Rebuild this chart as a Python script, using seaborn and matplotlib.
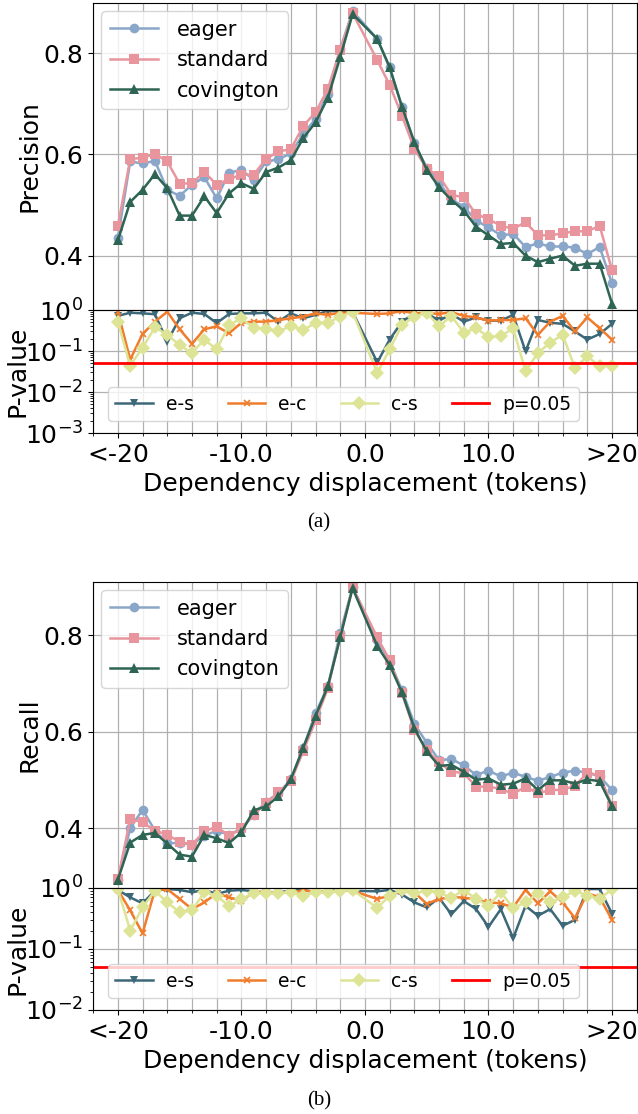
import numpy as np
import pandas as pd
import matplotlib
matplotlib.use("Agg")
import matplotlib.pyplot as plt
import matplotlib.ticker as mticker
import seaborn as sns

# displacement -20..-1, 1..20 (no 0)
DISP = list(range(-20, 0)) + list(range(1, 21))
XTICKS = [-20, -10, 0, 10, 20]
XTICKLABELS = ["<-20", "-10.0", "0.0", "10.0", ">20"]

# panel (a) precision
prec_eager = [0.435, 0.586, 0.582, 0.587, 0.530, 0.518, 0.540, 0.555, 0.513, 0.564,
              0.569, 0.550, 0.586, 0.590, 0.602, 0.640, 0.670, 0.720, 0.808, 0.883,
              0.828, 0.772, 0.694, 0.622, 0.574, 0.544, 0.511, 0.497, 0.469, 0.456,
              0.440, 0.443, 0.417, 0.424, 0.418, 0.418, 0.416, 0.403, 0.417, 0.345]
prec_standard = [0.458, 0.591, 0.593, 0.601, 0.586, 0.542, 0.543, 0.565, 0.540, 0.551,
                 0.560, 0.560, 0.591, 0.606, 0.610, 0.656, 0.683, 0.729, 0.807, 0.879,
                 0.786, 0.737, 0.676, 0.611, 0.572, 0.557, 0.520, 0.515, 0.482, 0.472,
                 0.459, 0.453, 0.466, 0.440, 0.440, 0.444, 0.448, 0.448, 0.459, 0.371]
prec_covington = [0.430, 0.506, 0.530, 0.561, 0.533, 0.479, 0.479, 0.517, 0.484, 0.523,
                  0.543, 0.532, 0.565, 0.574, 0.588, 0.632, 0.663, 0.712, 0.792, 0.877,
                  0.828, 0.772, 0.694, 0.624, 0.570, 0.535, 0.510, 0.489, 0.457, 0.440,
                  0.423, 0.425, 0.400, 0.387, 0.394, 0.400, 0.380, 0.384, 0.384, 0.305]

# panel (a) p-values
pa_es = [0.72, 0.86, 0.83, 0.79, 0.17, 0.63, 0.86, 0.80, 0.48, 0.80,
         0.83, 0.83, 0.86, 0.52, 0.83, 0.63, 0.76, 0.95, 0.93, 0.90,
         0.053, 0.19, 0.52, 0.83, 0.83, 0.55, 0.80, 0.52, 0.66, 0.55,
         0.55, 0.76, 0.098, 0.57, 0.49, 0.46, 0.30, 0.19, 0.26, 0.46]
pa_ec = [0.91, 0.062, 0.26, 0.52, 0.91, 0.34, 0.15, 0.34, 0.40, 0.27,
         0.49, 0.52, 0.52, 0.57, 0.63, 0.69, 0.83, 0.76, 0.86, 0.86,
         0.80, 0.83, 0.95, 0.83, 0.86, 0.80, 0.89, 0.72, 0.66, 0.55,
         0.57, 0.57, 0.63, 0.25, 0.52, 0.72, 0.30, 0.66, 0.36, 0.19]
pa_cs = [0.52, 0.044, 0.12, 0.38, 0.25, 0.14, 0.09, 0.19, 0.11, 0.43,
         0.63, 0.36, 0.34, 0.30, 0.41, 0.33, 0.48, 0.49, 0.69, 0.91,
         0.029, 0.11, 0.43, 0.69, 0.86, 0.40, 0.72, 0.28, 0.36, 0.22,
         0.23, 0.36, 0.032, 0.09, 0.16, 0.25, 0.039, 0.074, 0.043, 0.044]

# panel (b) recall
rec_eager = [0.293, 0.400, 0.438, 0.395, 0.369, 0.369, 0.366, 0.384, 0.395, 0.386,
             0.398, 0.428, 0.455, 0.472, 0.501, 0.566, 0.638, 0.694, 0.805, 0.899,
             0.790, 0.745, 0.686, 0.616, 0.577, 0.541, 0.543, 0.530, 0.510, 0.519,
             0.507, 0.515, 0.506, 0.498, 0.506, 0.515, 0.519, 0.515, 0.507, 0.479]
rec_standard = [0.294, 0.419, 0.412, 0.395, 0.386, 0.372, 0.366, 0.393, 0.403, 0.384,
                0.400, 0.428, 0.452, 0.474, 0.497, 0.559, 0.623, 0.690, 0.798, 0.899,
                0.795, 0.748, 0.679, 0.603, 0.562, 0.536, 0.517, 0.514, 0.486, 0.486,
                0.481, 0.471, 0.486, 0.472, 0.479, 0.479, 0.488, 0.514, 0.510, 0.446]
rec_covington = [0.293, 0.370, 0.386, 0.390, 0.368, 0.345, 0.341, 0.386, 0.379, 0.369,
                 0.391, 0.437, 0.445, 0.466, 0.501, 0.566, 0.632, 0.694, 0.795, 0.897,
                 0.777, 0.738, 0.681, 0.607, 0.559, 0.529, 0.531, 0.517, 0.500, 0.503,
                 0.490, 0.492, 0.503, 0.479, 0.499, 0.499, 0.492, 0.501, 0.497, 0.445]

# panel (b) p-values
pb_es = [0.93, 0.70, 0.56, 0.90, 0.96, 0.93, 0.85, 0.93, 0.80, 0.90,
         0.93, 0.88, 0.82, 0.85, 0.90, 0.93, 0.85, 0.88, 0.93, 0.90,
         0.88, 0.93, 0.78, 0.58, 0.48, 0.69, 0.37, 0.61, 0.45, 0.23,
         0.45, 0.15, 0.51, 0.35, 0.45, 0.24, 0.30, 0.96, 0.96, 0.38]
pb_ec = [0.93, 0.43, 0.18, 0.93, 0.96, 0.66, 0.45, 0.58, 0.82, 0.70,
         0.62, 0.85, 0.88, 0.82, 0.85, 0.90, 0.88, 0.85, 0.90, 0.90,
         0.66, 0.75, 0.90, 0.85, 0.55, 0.66, 0.70, 0.70, 0.64, 0.58,
         0.56, 0.48, 0.93, 0.56, 0.88, 0.58, 0.32, 0.82, 0.70, 0.30]
pb_cs = [0.96, 0.20, 0.48, 0.90, 0.58, 0.40, 0.43, 0.85, 0.75, 0.50,
         0.66, 0.82, 0.82, 0.82, 0.85, 0.75, 0.85, 0.85, 0.90, 0.93,
         0.47, 0.75, 0.93, 0.82, 0.90, 0.85, 0.69, 0.93, 0.66, 0.51,
         0.85, 0.47, 0.58, 0.82, 0.58, 0.70, 0.90, 0.75, 0.66, 0.96]

SYSTEMS = {"eager": ("#8aa6c8", "o"),
           "standard": ("#e8959e", "s"),
           "covington": ("#2e6453", "^")}
TESTS = {"e-s": ("#3c6878", "v", 6),
         "e-c": ("#f07c2c", "x", 5),
         "c-s": ("#dde496", "D", 7)}

FS = 18


def style_x(ax, labels):
    ax.set_xlim(-22, 22)
    ax.set_xticks(XTICKS)
    ax.xaxis.set_minor_locator(mticker.MultipleLocator(2))
    ax.grid(True, which="both", axis="x", color="#b0b0b0", lw=0.9)
    if labels:
        ax.set_xticklabels(XTICKLABELS)
    else:
        ax.tick_params(axis="x", which="both", labelbottom=False)


def draw_panel(fig, top, bottom_main, bottom_p, ylabel, series, pvals, ylim, plow, caption, cap_y):
    left, width = 0.146, 0.852
    ax = fig.add_axes([left, bottom_main, width, top - bottom_main])
    axp = fig.add_axes([left, bottom_p, width, bottom_main - bottom_p], sharex=ax)

    for (name, (color, marker)), vals in zip(SYSTEMS.items(), series):
        sns.lineplot(x=DISP, y=vals, ax=ax, color=color, marker=marker,
                     markersize=7, markeredgewidth=0, lw=1.8, label=name)
    ax.set_ylim(*ylim)
    ax.yaxis.set_major_locator(mticker.MultipleLocator(0.2))
    ax.grid(True, which="major", axis="y", color="#b0b0b0", lw=0.9)
    style_x(ax, False)
    ax.set_ylabel(ylabel, fontsize=FS)
    ax.yaxis.set_label_coords(-0.095, 0.5)
    ax.tick_params(labelsize=FS)
    ax.legend(loc="upper left", fontsize=15, handlelength=2.3,
              handletextpad=0.9, borderaxespad=0.4)

    for (name, (color, marker, ms)), vals in zip(TESTS.items(), pvals):
        sns.lineplot(x=DISP, y=vals, ax=axp, color=color, marker=marker,
                     markersize=ms, markeredgewidth=1.2 if marker == "x" else 0,
                     markeredgecolor=color, lw=1.8, label=name)
    axp.axhline(0.05, color="red", lw=2, label="p=0.05")
    axp.set_yscale("log")
    axp.set_ylim(plow, 1.0)
    axp.yaxis.set_major_locator(mticker.LogLocator(base=10, numticks=10))
    axp.grid(True, which="major", axis="y", color="#b0b0b0", lw=0.9)
    style_x(axp, True)
    axp.set_ylabel("P-value", fontsize=FS)
    axp.yaxis.set_label_coords(-0.118, 0.5)
    axp.set_xlabel("Dependency displacement (tokens)", fontsize=FS)
    axp.tick_params(labelsize=FS)
    axp.legend(loc="lower left", ncol=4, fontsize=13.5, columnspacing=1.8,
               handlelength=2.0, handletextpad=0.7, bbox_to_anchor=(0.01, 0.02))

    fig.text(0.5, cap_y, caption, ha="center", va="center",
             fontsize=15, family="Liberation Serif")


fig = plt.figure(figsize=(6.38, 11.14), dpi=100)

draw_panel(fig, 0.9973, 0.7217, 0.6113, "Precision",
           [prec_eager, prec_standard, prec_covington],
           [pa_es, pa_ec, pa_cs], (0.2925, 0.899), 1e-3, "(a)", 0.531)

draw_panel(fig, 0.4776, 0.2029, 0.0934, "Recall",
           [rec_eager, rec_standard, rec_covington],
           [pb_es, pb_ec, pb_cs], (0.276, 0.91), 1e-2, "(b)", 0.012)

fig.savefig("out.png", dpi=100)
